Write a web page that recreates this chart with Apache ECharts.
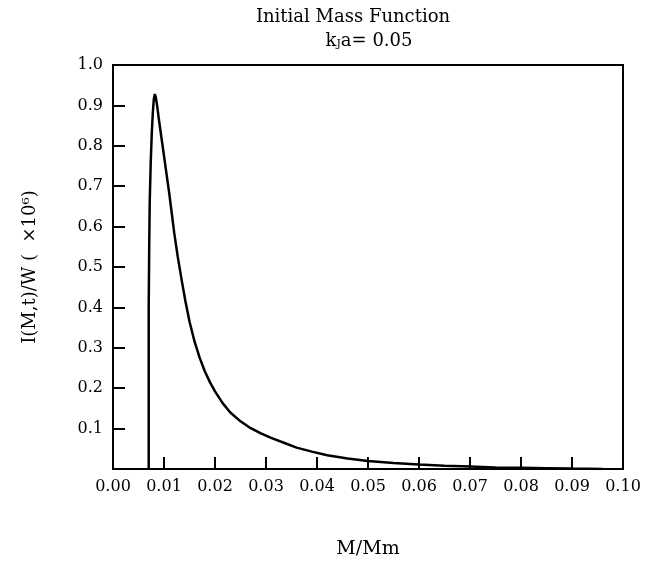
<!DOCTYPE html>
<html>
<head>
<meta charset="utf-8">
<script src="https://cdn.jsdelivr.net/npm/echarts@6/dist/echarts.min.js"></script>
<style>
  html, body { margin: 0; padding: 0; background: #fff; }
  #main { width: 645px; height: 564px; }
</style>
</head>
<body>
<div id="main"></div>
<script>
// M/Mm
const massX = [0.0070, 0.0070, 0.0071, 0.0072, 0.0074, 0.0076, 0.0078, 0.0080, 0.0082, 0.0084,
    0.0087, 0.0090, 0.0095, 0.0100, 0.0105, 0.0110, 0.0115, 0.0120, 0.0127, 0.0135,
    0.0142, 0.0150, 0.0160, 0.0170, 0.0180, 0.0190, 0.0200, 0.0215, 0.0230, 0.0250,
    0.0270, 0.0290, 0.0310, 0.0335, 0.0360, 0.0390, 0.0420, 0.0460, 0.0500, 0.0550,
    0.0600, 0.0650, 0.0700, 0.0750, 0.0800, 0.0850, 0.0900, 0.0960];
// I(M,t)/W (x10^6)
const imfY = [0, 0.40, 0.55, 0.66, 0.76, 0.83, 0.88, 0.915, 0.928, 0.92,
    0.895, 0.865, 0.82, 0.775, 0.73, 0.685, 0.635, 0.585, 0.525, 0.465,
    0.415, 0.365, 0.315, 0.275, 0.242, 0.215, 0.192, 0.163, 0.140, 0.118,
    0.101, 0.088, 0.077, 0.065, 0.053, 0.043, 0.034, 0.026, 0.020, 0.015,
    0.011, 0.008, 0.006, 0.004, 0.003, 0.002, 0.001, 0];
const yTicks = [0.1, 0.2, 0.3, 0.4, 0.5, 0.6, 0.7, 0.8, 0.9, 1.0];

const serif = '"DejaVu Serif", "Liberation Serif", serif';
const chart = echarts.init(document.getElementById('main'));

let seriesData = massX.map((x, i) => [x, imfY[i]]);

chart.setOption({
    animation: false,
    title: [{
        text: 'Initial Mass Function',
        left: 348, top: 3, textAlign: 'center',
        textStyle: { fontFamily: serif, fontSize: 18, fontWeight: 'normal', color: '#000' }
    }, {
        text: 'k{sub|J}a{n|= 0.05}',
        left: 364, top: 27, textAlign: 'center',
        textStyle: {
            fontFamily: serif, fontSize: 18, fontWeight: 'normal', color: '#000',
            rich: {
                sub: { fontFamily: serif, fontSize: 11, verticalAlign: 'bottom', padding: [7, 0, 0, 0], color: '#000' },
                n: { fontFamily: serif, fontSize: 18, color: '#000' }
            }
        }
    }],
    grid: {
        left: 113, right: 22, top: 65, bottom: 94,
        show: true, borderColor: '#000', borderWidth: 2, backgroundColor: 'transparent'
    },
    xAxis: {
        type: 'value', min: 0, max: 0.1, interval: 0.01,
        name: 'M/Mm', nameLocation: 'middle', nameGap: 71,
        nameTextStyle: { fontFamily: serif, fontSize: 19, color: '#000' },
        axisLine: { lineStyle: { color: '#000', width: 2 } },
        axisTick: { inside: true, length: 12, lineStyle: { color: '#000', width: 2 } },
        axisLabel: { fontFamily: serif, fontSize: 16, color: '#000', margin: 10,
            formatter: v => v.toFixed(2) },
        splitLine: { show: false }
    },
    yAxis: {
        type: 'value', min: 0, max: 1.0, interval: 0.1,
        name: 'I(M,t)/W (  ×10⁶)', nameLocation: 'middle', nameGap: 74,
        nameTextStyle: { fontFamily: serif, fontSize: 18, color: '#000' },
        axisLine: { lineStyle: { color: '#000', width: 2 } },
        axisTick: { inside: true, length: 12, lineStyle: { color: '#000', width: 2 } },
        axisLabel: { fontFamily: serif, fontSize: 16, color: '#000', margin: 10,
            formatter: v => {
                let t = yTicks.find(k => Math.abs(k - v) < 1e-6);
                return t === undefined ? '' : t.toFixed(1);
            } },
        splitLine: { show: false }
    },
    series: [{
        type: 'line',
        data: seriesData,
        showSymbol: false,
        smooth: false,
        lineStyle: { color: '#000', width: 2.5 }
    }]
});
</script>
</body>
</html>
